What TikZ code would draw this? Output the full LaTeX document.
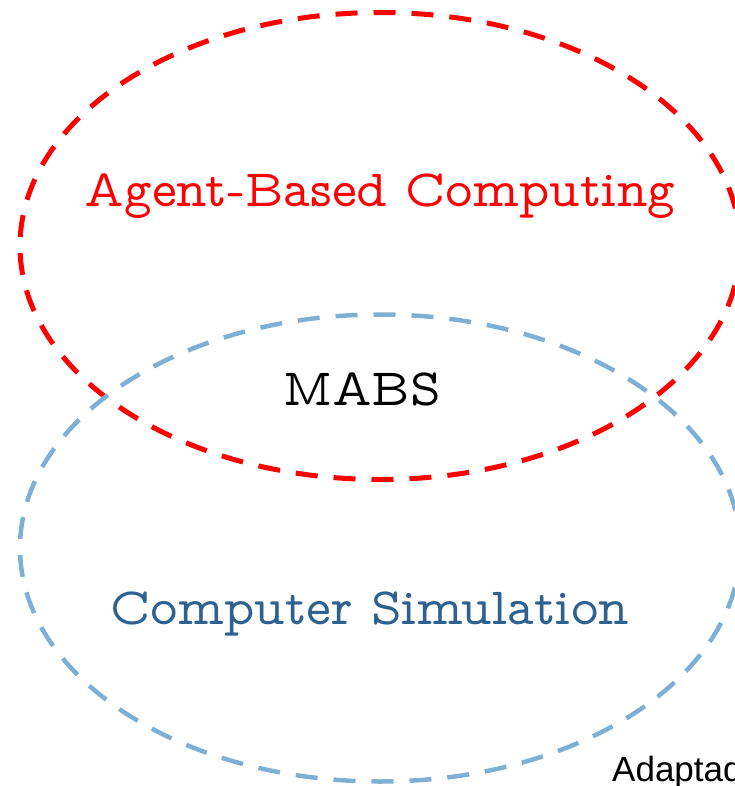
\documentclass[tikz,border=0pt]{standalone}
\usepackage{fontspec}
\newfontfamily\capfont{Liberation Sans}
\usetikzlibrary{shapes.geometric}
\definecolor{setred}{RGB}{255,0,0}
\definecolor{setblue}{RGB}{126,176,214}
\definecolor{textblue}{RGB}{45,97,144}
\tikzset{
  setring/.style={ellipse, minimum width=720pt, minimum height=467pt, inner sep=0pt,
    line width=5pt, dash pattern=on 22pt off 16pt},
  setlabel/.style={anchor=base, inner sep=0pt, font=\fontfamily{lmvtt}\fontsize{52.5}{62}\selectfont}
}
\begin{document}
\begin{tikzpicture}[x=1pt,y=-1pt]
\useasboundingbox (0,0) rectangle (734,786);
\node[setring, draw=setred] (abc) at (380,246) {};
\node[setring, draw=setblue, line width=4.5pt] (cs) at (380,548) {};
\node[setlabel, text=setred] (abctext) at (380,207) {Agent-Based Computing};
\node[setlabel, text=black] (mabs) at (362,405) {MABS};
\node[setlabel, text=textblue] (cstext) at (370,624) {Computer Simulation};
\node[anchor=base west, inner sep=0pt, font=\capfont\fontsize{35}{40}\selectfont] (src) at (612,781) {Adaptado};
\end{tikzpicture}
\end{document}
